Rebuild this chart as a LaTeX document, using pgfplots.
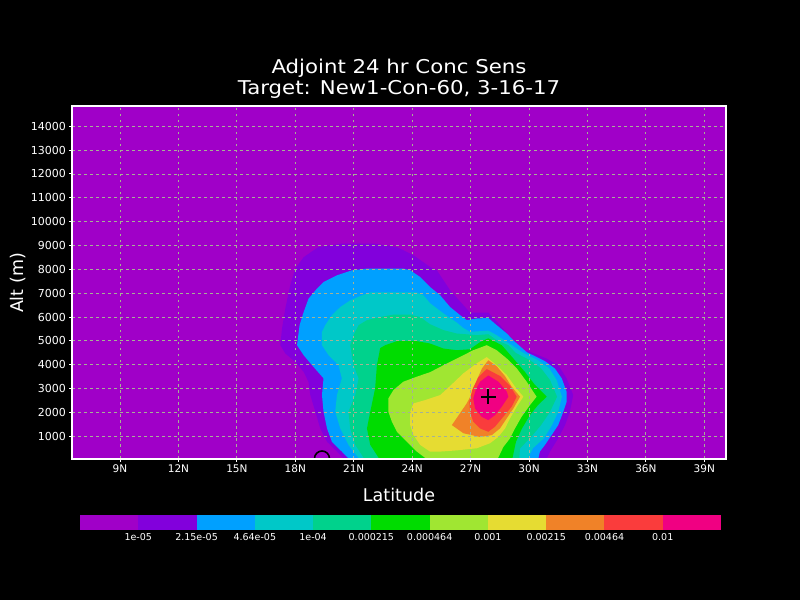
\documentclass[border=0pt]{standalone}
\usepackage{pgfplots}
\pgfplotsset{compat=1.18}
\usepackage{fontspec}
\setmainfont{DejaVu Sans}
\newfontfamily\titlefont[FakeStretch=1.12]{DejaVu Sans}
\definecolor{c1}{RGB}{160,0,200}
\definecolor{c2}{RGB}{130,0,220}
\definecolor{c3}{RGB}{0,160,255}
\definecolor{c4}{RGB}{0,200,200}
\definecolor{c5}{RGB}{0,210,140}
\definecolor{c6}{RGB}{0,220,0}
\definecolor{c7}{RGB}{160,230,50}
\definecolor{c8}{RGB}{230,220,50}
\definecolor{c9}{RGB}{240,130,40}
\definecolor{c10}{RGB}{250,60,60}
\definecolor{c11}{RGB}{240,0,130}
\definecolor{gridc}{RGB}{165,178,148}
\begin{document}
\begin{tikzpicture}[x=1pt,y=1pt]
\fill[black] (0,0) rectangle (800,600);
\useasboundingbox (0,0) rectangle (800,600);
\node[anchor=base, white, font=\titlefont\fontsize{19}{22}\selectfont] at (399,526.7) {Adjoint 24 hr Conc Sens};
\node[anchor=base, white, font=\titlefont\fontsize{19}{22}\selectfont] at (399,505.7) {Target: New1-Con-60, 3-16-17};
\node[anchor=base, white, font=\fontsize{17.5}{20}\selectfont] at (399,99) {Latitude};
\node[rotate=90, white, font=\fontsize{17.5}{20}\selectfont] at (18,317) {Alt (m)};
\begin{axis}[
  at={(72.3pt,141.5pt)}, anchor=south west,
  scale only axis, width=653.4pt, height=352.8pt,
  xmin=6.55, xmax=40.1, ymin=70, ymax=14860,
  axis on top, clip marker paths=true,
  axis background/.style={fill=c1},
  axis line style={white, line width=2pt},
  grid=major,
  major grid style={gridc, line width=0.8pt, dash pattern=on 2.5pt off 3.5pt},
  tick align=outside, tick pos=left, major tick length=3pt,
  tick style={white, line width=1pt},
  xtick={9,12,...,39},
  xticklabels={9N,12N,15N,18N,21N,24N,27N,30N,33N,36N,39N},
  ytick={1000,2000,3000,4000,5000,6000,7000,8000,9000,10000,11000,12000,13000,14000},
  scaled y ticks=false,
  /pgf/number format/1000 sep={},
  /pgf/number format/assume math mode=true,
  ticklabel style={text=white, font=\fontsize{10.5}{12}\selectfont},
  yticklabel style={font=\fontsize{11}{12}\selectfont},
]
% >1e-05
\addplot[fill=c2, draw=none] coordinates {
(20.56,0)(20.14,360)(19.63,770)(19.28,1330)(19.03,2030)(18.77,2730)(18.68,3280)
(18.43,3700)(18.00,4120)(17.49,4470)(17.23,4820)(17.32,5530)(17.49,6370)(17.74,7330)
(18.00,8030)(18.43,8510)(19.18,8930)(20.39,9080)(22.02,9080)(23.22,8930)(24.07,8590)
(24.92,8100)(25.27,7960)(25.95,7120)(26.97,6190)(27.91,6190)(28.51,5660)(29.18,5030)
(29.71,4610)(30.05,4540)(30.91,4260)(31.50,3980)(31.93,3430)(32.27,2730)(32.10,2030)
(31.85,1470)(31.50,920)(31.08,360)(30.87,0)} -- cycle;
% >2.15e-05
\addplot[fill=c3, draw=none] coordinates {
(20.82,0)(20.39,360)(19.88,770)(19.63,1330)(19.45,2030)(19.37,2730)(19.45,3430)
(18.86,3980)(18.43,4400)(18.09,4820)(18.22,5660)(18.43,6210)(18.68,6770)(19.11,7190)
(19.45,7470)(20.14,7750)(20.91,7960)(21.68,8030)(23.55,8030)(23.90,7960)(24.41,7680)
(24.92,7260)(25.44,6910)(25.95,6420)(26.46,6080)(26.81,5870)(27.32,5940)(27.91,5960)
(28.34,5660)(28.86,5310)(29.28,4960)(29.88,4530)(30.82,4150)(31.33,3840)(31.68,3430)
(31.93,2870)(31.93,2450)(31.76,2030)(31.50,1470)(31.16,1050)(30.82,640)(30.56,360)
(30.46,0)} -- cycle;
% >4.64e-05
\addplot[fill=c4, draw=none] coordinates {
(21.33,0)(20.73,640)(20.31,1330)(20.05,2030)(20.14,2730)(20.39,3430)(20.22,3980)
(19.71,4400)(19.37,4820)(19.37,5380)(19.54,5660)(19.88,6080)(20.31,6420)(20.82,6700)
(21.42,6910)(21.85,7030)(24.24,7030)(24.58,6910)(24.92,6580)(25.61,6150)(26.29,5770)
(26.63,5540)(26.97,5380)(27.91,5430)(28.34,5240)(29.11,4820)(29.64,4530)(30.46,4190)
(31.03,3860)(31.42,3360)(31.69,2660)(31.50,2030)(31.18,1470)(30.77,920)(30.20,500)
(29.90,0)} -- cycle;
% >1e-04
\addplot[fill=c5, draw=none] coordinates {
(21.59,0)(21.08,640)(20.82,1330)(20.73,2030)(21.08,2730)(21.25,3430)(20.99,3980)
(20.82,4820)(20.99,5240)(21.25,5660)(21.68,5870)(22.36,6000)(23.04,6100)(23.90,6100)
(24.41,6000)(24.92,5700)(25.61,5450)(26.29,5310)(27.32,5240)(27.91,5280)(28.34,5030)
(28.94,4820)(29.33,4490)(30.05,4190)(30.62,3850)(31.08,3360)(31.44,2660)(31.08,2030)
(30.62,1470)(30.05,920)(29.54,500)(29.49,0)} -- cycle;
% >0.000215
\addplot[fill=c6, draw=none] coordinates {
(22.36,0)(21.85,640)(21.68,1330)(21.85,2030)(22.10,3010)(22.19,3980)(22.36,4700)
(22.62,4820)(23.22,4990)(24.24,4990)(24.92,4890)(25.61,4680)(26.29,4610)(26.97,4650)
(27.49,4950)(27.91,5110)(28.60,4820)(29.20,4260)(29.79,3700)(30.31,3150)(30.91,2660)
(30.46,2310)(30.05,1890)(29.64,1330)(29.33,770)(29.13,0)} -- cycle;
% >0.000464
\addplot[fill=c7, draw=none] coordinates {
(24.82,0)(24.24,360)(23.73,770)(23.22,1190)(22.96,1610)(22.78,2030)(22.78,2590)
(23.04,2940)(23.55,3290)(24.24,3500)(24.92,3690)(25.61,3980)(26.29,4260)(27.14,4610)
(27.83,4820)(28.34,4610)(28.86,4260)(29.37,3850)(29.88,3290)(30.39,2660)(30.05,2310)
(29.62,1820)(29.28,1330)(29.03,920)(28.68,550)(28.36,0)} -- cycle;
% >0.001
\addplot[fill=c8, draw=none] coordinates {
(24.92,360)(24.41,640)(24.07,1050)(23.90,1470)(23.90,2030)(24.07,2380)(24.67,2520)
(25.44,2730)(25.95,3110)(26.63,3640)(27.32,4060)(27.83,4320)(28.34,3980)(28.86,3570)
(29.28,3080)(29.71,2660)(29.37,2240)(29.03,1760)(28.77,1330)(28.43,980)(28.00,710)
(27.32,500)(26.29,410)(25.44,360)} -- cycle;
% >0.00215
\addplot[fill=c9, draw=none] coordinates {
(26.04,1470)(26.46,1970)(26.81,2390)(27.08,2810)(27.32,3360)(27.59,3850)(27.91,4190)
(28.34,3940)(28.77,3520)(29.11,3080)(29.54,2660)(29.20,2170)(28.86,1760)(28.51,1330)
(28.09,1050)(27.49,970)(26.63,1130)} -- cycle;
% >0.00464
\addplot[fill=c10, draw=none] coordinates {
(26.94,2450)(27.08,2940)(27.40,3480)(27.83,3820)(28.51,3530)(29.03,3110)(29.37,2660)
(29.11,2240)(28.68,1820)(28.25,1400)(27.91,1190)(27.49,1330)(27.14,1610)(26.97,2030)} -- cycle;
% >0.01
\addplot[fill=c11, draw=none] coordinates {
(27.14,2590)(27.28,2980)(27.49,3290)(27.91,3550)(28.43,3290)(28.86,2870)(28.94,2660)
(28.60,2240)(28.26,1890)(27.91,1680)(27.57,1820)(27.23,2170)} -- cycle;
% markers
\addplot[only marks, mark=+, mark size=7.5pt, mark options={line width=2pt, draw=black}] coordinates {(27.91,2660)};
\addplot[only marks, mark=o, mark size=7.5pt, mark options={line width=1.6pt, draw=black}] coordinates {(19.37,70)};
\end{axis}
\begin{axis}[
  at={(80pt,70pt)}, anchor=south west,
  scale only axis, width=641pt, height=15pt,
  xmin=0, xmax=11, ymin=0, ymax=1,
  axis line style={draw=none},
  major tick length=0pt, ytick=\empty,
  xtick={1,2,3,4,5,6,7,8,9,10},
  xticklabels={1e-05,2.15e-05,4.64e-05,1e-04,0.000215,0.000464,0.001,0.00215,0.00464,0.01},
  xticklabel style={text=white, font=\fontsize{9.5}{11}\selectfont},
]
\addplot[fill=c1, draw=none] coordinates {(0,0)(1,0)(1,1)(0,1)} -- cycle;
\addplot[fill=c2, draw=none] coordinates {(1,0)(2,0)(2,1)(1,1)} -- cycle;
\addplot[fill=c3, draw=none] coordinates {(2,0)(3,0)(3,1)(2,1)} -- cycle;
\addplot[fill=c4, draw=none] coordinates {(3,0)(4,0)(4,1)(3,1)} -- cycle;
\addplot[fill=c5, draw=none] coordinates {(4,0)(5,0)(5,1)(4,1)} -- cycle;
\addplot[fill=c6, draw=none] coordinates {(5,0)(6,0)(6,1)(5,1)} -- cycle;
\addplot[fill=c7, draw=none] coordinates {(6,0)(7,0)(7,1)(6,1)} -- cycle;
\addplot[fill=c8, draw=none] coordinates {(7,0)(8,0)(8,1)(7,1)} -- cycle;
\addplot[fill=c9, draw=none] coordinates {(8,0)(9,0)(9,1)(8,1)} -- cycle;
\addplot[fill=c10, draw=none] coordinates {(9,0)(10,0)(10,1)(9,1)} -- cycle;
\addplot[fill=c11, draw=none] coordinates {(10,0)(11,0)(11,1)(10,1)} -- cycle;
\end{axis}
\end{tikzpicture}
\end{document}
